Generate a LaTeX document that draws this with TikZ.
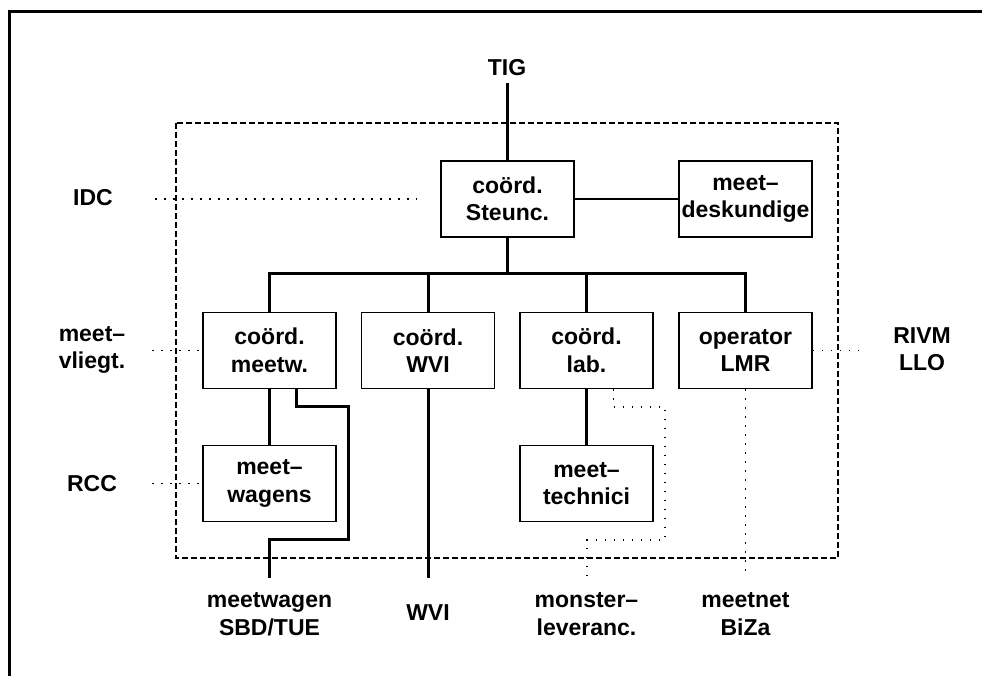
\documentclass[tikz,border=0pt]{standalone}
\usepackage{fontspec}
\setmainfont{Liberation Sans}
\begin{document}
\begin{tikzpicture}[x=1pt,y=-1pt,
  every node/.style={font=\fontsize{23}{27.5}\selectfont\bfseries, align=center, inner sep=0pt},
  box/.style={draw, line width=1.6pt, minimum width=133pt, minimum height=76pt},
  heavy/.style={line width=3pt},
  link/.style={line width=2.2pt},
  dots/.style={line width=1.6pt, dash pattern=on 1.6pt off 7.4pt},
  boundary/.style={line width=1.4pt, dash pattern=on 6pt off 3pt}]
\useasboundingbox (0,0) rectangle (982,676);

% outer frame (top and left edges)
\draw[line width=3pt] (9,676) -- (9,12) -- (982,12);

% dashed boundary of the organisation
\draw[boundary] (176,123) rectangle (838,558);

% boxes
\node[box] (steunc) at (507.5,199) {coörd.\\Steunc.};
\node[box] (desk)   at (745.5,199) {meet–\\deskundige};
\node[box] (meetw)  at (269.5,350.5) {coörd.\\meetw.};
\node[box] (wvi)    at (428,350.5) {coörd.\\WVI};
\node[box] (lab)    at (586.5,350.5) {coörd.\\lab.};
\node[box] (lmr)    at (745.5,350.5) {operator\\LMR};
\node[box] (wagens) at (269.5,483.5) {meet–\\wagens};
\node[box] (techn)  at (586.5,483.5) {meet–\\technici};

% outside labels
\node (tig)  at (507,68)  {TIG};
\node (idc)  at (93,198)  {IDC};
\node (vlg)  at (92,350)  {meet–\\vliegt.};
\node (rcc)  at (92,484)  {RCC};
\node (rivm) at (922,349) {RIVM\\LLO};
\node (sbd)  at (269.5,614) {meetwagen\\SBD/TUE};
\node (wvix) at (428,613)  {WVI};
\node (mon)  at (586.5,614) {monster–\\leveranc.};
\node (biza) at (745.5,614) {meetnet\\BiZa};

% connector ends
\coordinate (tigfoot) at (507.5,83);
\coordinate (bus)     at (507.5,274);
\coordinate (mwfoot)  at (269.5,578);
\coordinate (wvifoot) at (428,578);
\coordinate (monfoot) at (587,575);
\coordinate (lmrfoot) at (745.5,575);
\coordinate (idcL)    at (155,199);
\coordinate (idcR)    at (417,199);
\coordinate (vlgL)    at (152,350.5);
\coordinate (rccL)    at (152,483.5);
\coordinate (rivmR)   at (865,350.5);

% solid lines
\draw[link] (tigfoot) -- (steunc.north);
\draw[link] (steunc.east) -- (desk.west);
\draw[link] (steunc.south) -- (bus);
\draw[heavy] (meetw.north) |- (lmr.north |- bus) -- (lmr.north);
\draw[heavy] (wvi.north) -- (wvi.north |- bus);
\draw[heavy] (lab.north) -- (lab.north |- bus);
\draw[link] (meetw.south) -- (wagens.north);
\draw[heavy] ([xshift=27pt]meetw.south) |- (348,406) |- (269.5,539) -- (mwfoot);
\draw[heavy] (wvi.south) -- (wvifoot);
\draw[heavy] (lab.south) -- (techn.north);

% dotted lines
\draw[dots] ([xshift=27pt]lab.south) |- (665,407) |- (587,540) -- (monfoot);
\draw[dots] (lmr.south) -- (lmrfoot);
\draw[dots] (idcL) -- (idcR);
\draw[dots] (vlgL) -- (meetw.west);
\draw[dots] (rccL) -- (wagens.west);
\draw[dots] (lmr.east) -- (rivmR);
\end{tikzpicture}
\end{document}
